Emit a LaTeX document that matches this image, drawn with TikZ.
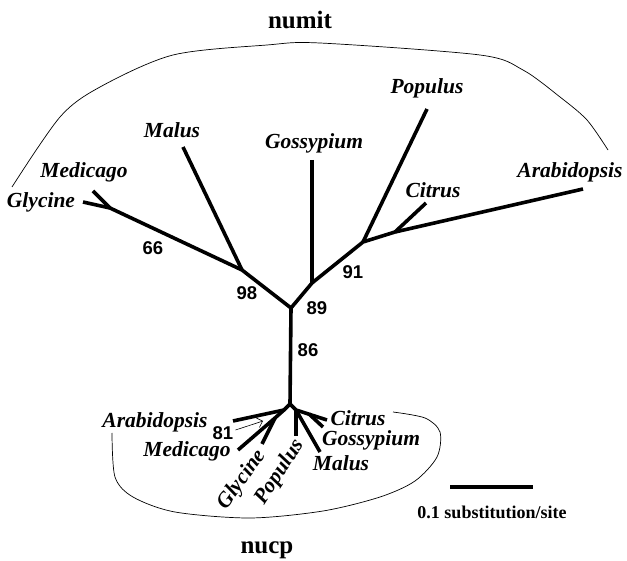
\documentclass[tikz,border=0pt]{standalone}
\usepackage{fontspec}
\setmainfont{Liberation Serif}
\setsansfont{Liberation Sans}
\usetikzlibrary{arrows.meta}

\tikzset{
  branch/.style={line width=3.6pt, line join=round},
  hull/.style={line width=0.7pt},
  taxon/.style={font=\fontsize{21.5}{24}\selectfont\bfseries\itshape, inner sep=0pt},
  boot/.style={font=\fontsize{18.5}{21}\selectfont\sffamily\bfseries, inner sep=0pt},
  group/.style={font=\fontsize{25}{29}\selectfont\bfseries, inner sep=0pt}
}

\begin{document}
\begin{tikzpicture}[x=1pt, y=-1pt]
  \useasboundingbox (0,0) rectangle (627,561);

  % numit tree
  \coordinate (rt) at (291,308);
  \coordinate (gm) at (110,208);
  \coordinate (ml) at (242,270);
  \coordinate (gp) at (312,283);
  \coordinate (pp) at (363,242);
  \coordinate (ca) at (395,232);
  \coordinate (tGly) at (83,202);
  \coordinate (tMed) at (93,191);
  \coordinate (tMal) at (183,147);
  \coordinate (tGos) at (312,160);
  \coordinate (tPop) at (427,109);
  \coordinate (tCit) at (426,203);
  \coordinate (tAra) at (583,189);

  \draw[branch] (tGly) -- (gm) -- (ml) -- (rt) -- (gp) -- (pp) -- (ca) -- (tAra);
  \draw[branch] (tMed) -- (gm);
  \draw[branch] (tMal) -- (ml);
  \draw[branch] (tGos) -- (gp);
  \draw[branch] (tPop) -- (pp);
  \draw[branch] (tCit) -- (ca);

  \node[taxon] (lGly) at (41,202) {Glycine};
  \node[taxon] (lMed) at (84,172) {Medicago};
  \node[taxon] (lMal) at (172,130) {Malus};
  \node[taxon] (lGos) at (314,143) {Gossypium};
  \node[taxon] (lPop) at (427,88) {Populus};
  \node[taxon] (lCit) at (433,190) {Citrus};
  \node[taxon] (lAra) at (570,172) {Arabidopsis};

  \node[boot] (b66) at (153,248) {66};
  \node[boot] (b98) at (247,293) {98};
  \node[boot] (b89) at (317,308) {89};
  \node[boot] (b91) at (353,272) {91};
  \node[boot] (b86) at (308,350) {86};

  % nucp tree
  \coordinate (nb) at (290,404);
  \coordinate (bl) at (284,410);
  \coordinate (br) at (296,410);
  \coordinate (mg) at (275,418);
  \coordinate (gc) at (309,414);
  \coordinate (sAra) at (233,421);
  \coordinate (sMed) at (238,450);
  \coordinate (sGly) at (262,444);
  \coordinate (sPop) at (296,436);
  \coordinate (sCit) at (327,420);
  \coordinate (sGos) at (323,427);
  \coordinate (sMal) at (320,452);

  \draw[branch] (rt) -- (nb);
  \draw[branch] (sAra) -- (bl) -- (nb) -- (br) -- (sCit);
  \draw[branch] (bl) -- (mg) -- (sMed);
  \draw[branch] (mg) -- (sGly);
  \draw[branch] (br) -- (sPop);
  \draw[branch] (br) -- (sMal);
  \draw[branch] (gc) -- (sGos);

  \node[taxon] (mAra) at (155,422) {Arabidopsis};
  \node[taxon] (mMed) at (187,451) {Medicago};
  \node[taxon, rotate=54] (mGly) at (242,480) {Glycine};
  \node[taxon, rotate=57] (mPop) at (280,472) {Populus};
  \node[taxon] (mCit) at (358,418) {Citrus};
  \node[taxon] (mGos) at (371,440) {Gossypium};
  \node[taxon] (mMal) at (341,463) {Malus};

  \node[boot] (b81) at (223,433) {81};
  \coordinate (a81) at (263,421);
  \draw[line width=0.6pt, -{Straight Barb[length=5pt]}] (b81.east) ++(2,-3) -- (a81);

  % group outlines
  \draw[hull] plot[smooth] coordinates {(12,187) (60,117) (100,87) (173,55) (267,45) (320,43) (480,55) (523,70) (560,97) (587,120) (608,150)};
  \draw[hull] plot[smooth] coordinates {(393,412) (425,418) (440,432) (437,457) (415,481) (380,497) (323,511) (250,518) (175,512) (133,497) (115,477) (112,433)};

  \node[group] (numit) at (300,20) {numit};
  \node[group] (nucp) at (267,550) {nucp};

  % scale bar
  \coordinate (sb1) at (450,487);
  \coordinate (sb2) at (533,487);
  \draw[line width=4pt] (sb1) -- (sb2);
  \node[font=\fontsize{18}{21}\selectfont\bfseries, inner sep=0pt] (sbl) at (492,512) {0.1 substitution/site};
\end{tikzpicture}
\end{document}
